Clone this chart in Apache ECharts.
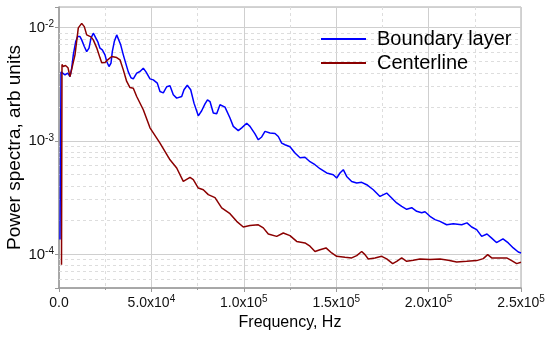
<!DOCTYPE html>
<html><head><meta charset="utf-8">
<script src="https://cdn.jsdelivr.net/npm/echarts@6/dist/echarts.min.js"></script>
<style>html,body{margin:0;padding:0;background:#fff}#c{width:550px;height:338px}</style>
</head><body><div id="c"></div>
<script>
// ---- data (frequency in Hz, power spectra in arb units) ----
const seriesNames = ['Boundary layer', 'Centerline'];
const freqBL = [541, 1082, 1786, 3247, 4708, 5952, 6872, 7738, 9036, 10119, 11363, 12283, 13690, 14989, 16233, 17315, 18560, 19480, 20941, 22185, 23430, 24891, 25810, 27055, 28137, 28841, 29923, 31221, 32087, 33386, 34793, 36091, 37498, 38959, 40204, 42043, 43829, 45615, 47076, 49240, 51026, 53190, 54651, 56437, 58276, 60062, 61848, 63687, 66393, 67638, 69423, 71263, 73049, 75375, 77215, 79001, 80353, 81706, 83492, 85331, 87117, 89823, 92528, 94314, 97019, 98859, 101565, 103350, 106056, 107842, 109681, 111467, 114172, 116878, 118664, 120503, 122289, 124994, 127700, 130405, 133111, 135816, 138522, 141227, 144852, 148424, 150264, 152049, 153835, 155675, 158380, 161086, 163791, 166497, 170068, 173694, 177319, 180024, 182730, 185435, 188141, 190846, 193552, 196257, 198043, 200748, 203454, 206159, 209785, 213356, 217901, 220769, 223312, 226018, 228723, 231591, 234134, 236731, 240248, 243116, 245822, 248527, 250000];
const powerBL = [1.34e-4, 4.06e-3, 4.09e-3, 3.82e-3, 3.96e-3, 3.69e-3, 4.38e-3, 5.74e-3, 7.52e-3, 8.33e-3, 8.33e-3, 7.79e-3, 6.80e-3, 6.14e-3, 6.58e-3, 8.06e-3, 8.92e-3, 8.62e-3, 7.52e-3, 6.58e-3, 6.36e-3, 5.74e-3, 5.01e-3, 4.53e-3, 4.85e-3, 6.14e-3, 7.52e-3, 8.62e-3, 8.33e-3, 7.04e-3, 5.74e-3, 4.85e-3, 4.06e-3, 3.60e-3, 3.52e-3, 3.96e-3, 4.09e-3, 4.38e-3, 4.06e-3, 3.52e-3, 3.45e-3, 3.23e-3, 2.72e-3, 2.65e-3, 3.00e-3, 3.06e-3, 2.55e-3, 2.38e-3, 2.46e-3, 2.82e-3, 3.09e-3, 2.82e-3, 2.15e-3, 1.66e-3, 1.84e-3, 2.12e-3, 2.30e-3, 2.22e-3, 1.76e-3, 1.73e-3, 2.08e-3, 1.98e-3, 1.59e-3, 1.34e-3, 1.23e-3, 1.30e-3, 1.43e-3, 1.34e-3, 1.15e-3, 1.02e-3, 1.08e-3, 1.21e-3, 1.17e-3, 1.16e-3, 1.09e-3, 9.54e-4, 9.22e-4, 8.85e-4, 7.79e-4, 7.08e-4, 7.15e-4, 6.53e-4, 6.14e-4, 5.66e-4, 5.19e-4, 5.01e-4, 4.69e-4, 5.19e-4, 5.55e-4, 4.84e-4, 4.37e-4, 4.23e-4, 4.29e-4, 4.09e-4, 3.69e-4, 3.22e-4, 3.45e-4, 3.12e-4, 2.82e-4, 2.63e-4, 2.48e-4, 2.56e-4, 2.38e-4, 2.31e-4, 2.36e-4, 2.15e-4, 2.01e-4, 1.94e-4, 1.81e-4, 1.85e-4, 1.81e-4, 1.88e-4, 1.73e-4, 1.64e-4, 1.43e-4, 1.50e-4, 1.38e-4, 1.26e-4, 1.36e-4, 1.25e-4, 1.13e-4, 1.04e-4, 1.02e-4];
const freqCL = [1353, 1623, 2164, 3517, 4870, 5952, 7034, 8658, 10443, 12283, 13690, 14989, 15854, 17315, 18560, 20400, 22185, 23105, 24891, 26352, 28516, 31221, 33007, 34793, 36632, 38418, 40204, 42043, 45615, 49240, 54651, 60062, 63687, 67259, 70884, 72670, 75375, 78081, 80786, 84412, 88037, 92528, 96154, 99725, 103350, 107842, 110547, 113253, 117798, 121369, 124994, 128620, 133111, 135816, 138522, 141227, 144474, 147558, 150264, 154755, 158380, 161086, 163791, 165577, 167363, 170988, 174614, 177319, 180566, 182730, 185435, 188141, 191712, 195338, 200748, 206159, 210650, 215195, 220606, 226018, 229589, 231970, 234134, 238625, 242251, 244956, 247662, 250000];
const powerCL = [8.04e-5, 4.73e-3, 4.53e-3, 4.62e-3, 4.41e-3, 3.69e-3, 3.67e-3, 5.74e-3, 9.94e-3, 1.089e-2, 1.02e-2, 8.62e-3, 8.33e-3, 8.28e-3, 7.79e-3, 6.62e-3, 5.40e-3, 4.88e-3, 4.91e-3, 5.19e-3, 5.55e-3, 5.43e-3, 5.19e-3, 4.23e-3, 3.34e-3, 2.95e-3, 2.91e-3, 2.46e-3, 1.88e-3, 1.30e-3, 9.54e-4, 6.79e-4, 5.74e-4, 4.37e-4, 4.74e-4, 4.53e-4, 3.82e-4, 3.69e-4, 3.34e-4, 3.14e-4, 2.55e-4, 2.27e-4, 1.94e-4, 1.73e-4, 1.78e-4, 1.81e-4, 1.70e-4, 1.50e-4, 1.43e-4, 1.53e-4, 1.45e-4, 1.29e-4, 1.25e-4, 1.17e-4, 1.05e-4, 1.09e-4, 1.13e-4, 1.02e-4, 9.52e-5, 9.33e-5, 9.22e-5, 9.66e-5, 1.05e-4, 9.86e-5, 9.03e-5, 9.22e-5, 9.52e-5, 9.03e-5, 8.21e-5, 8.60e-5, 9.22e-5, 8.60e-5, 8.78e-5, 9.03e-5, 8.91e-5, 9.03e-5, 8.78e-5, 8.50e-5, 8.60e-5, 8.73e-5, 9.09e-5, 9.86e-5, 9.22e-5, 9.22e-5, 9.22e-5, 8.73e-5, 8.21e-5, 8.43e-5];

// ---- axes / ticks ----
const xTickValues = [0, 50000, 100000, 150000, 200000, 250000];
const xTickMantissa = ['0.0', '5.0', '1.0', '1.5', '2.0', '2.5'];
const xTickExponent = [null, 4, 5, 5, 5, 5];
const yTickExponents = [-4, -3, -2];
const yRange = [5e-5, 0.0152];
const minorGridValues = [6e-5, 7e-5, 8e-5, 9e-5, 2e-4, 3e-4, 4e-4, 5e-4, 6e-4, 7e-4, 8e-4, 9e-4, 2e-3, 3e-3, 4e-3, 5e-3, 6e-3, 7e-3, 8e-3, 9e-3];

const FONT = 'Liberation Sans, Arial, sans-serif';
const toPts = (fs, ps) => fs.map((f, i) => [f, Math.log10(ps[i])]);

const chart = echarts.init(document.getElementById('c'), null, {renderer: 'canvas'});
chart.setOption({
  animation: false,
  backgroundColor: '#fff',
  grid: {left: 59, right: 29, top: 7, bottom: 50, outerBoundsMode: 'none', containLabel: false,
    show: true, borderColor: '#a8a8a8', borderWidth: 1, backgroundColor: 'transparent'},
  legend: {
    data: seriesNames, orient: 'vertical', left: 316, top: 23, z: 20,
    icon: 'rect', itemWidth: 45, itemHeight: 2, itemGap: 2,
    textStyle: {fontFamily: FONT, fontSize: 20, color: '#000', lineHeight: 22, padding: [0, 0, 0, 6]}
  },
  xAxis: {
    type: 'value', min: 0, max: 250000, interval: 50000,
    name: 'Frequency, Hz', nameLocation: 'middle', nameGap: 27, nameMoveOverlap: false,
    nameTextStyle: {fontFamily: FONT, fontSize: 16, color: '#000'},
    axisLine: {show: true, lineStyle: {color: '#9a9a9a', width: 1.5}},
    axisTick: {show: true, inside: false, length: 4, lineStyle: {color: '#9a9a9a'}},
    minorTick: {show: true, splitNumber: 2, length: 2, lineStyle: {color: '#9a9a9a'}},
    splitLine: {show: true, lineStyle: {color: '#cfcfcf', width: 1}},
    minorSplitLine: {show: true, lineStyle: {color: '#dddddd', width: 1, type: [3, 3]}},
    axisLabel: {
      margin: 6, showMaxLabel: true,
      formatter: v => {
        const i = xTickValues.indexOf(v);
        if (i < 0) return '';
        if (xTickExponent[i] === null) return '{b|' + xTickMantissa[i] + '}';
        return '{b|' + xTickMantissa[i] + 'x10}{s|' + xTickExponent[i] + '}';
      },
      rich: {
        b: {fontFamily: FONT, fontSize: 14, color: '#111', lineHeight: 16, verticalAlign: 'bottom'},
        s: {fontFamily: FONT, fontSize: 10, color: '#111', lineHeight: 8, verticalAlign: 'top'}
      }
    }
  },
  yAxis: {
    type: 'value', min: Math.log10(yRange[0]), max: Math.log10(yRange[1]), splitNumber: 2,
    name: 'Power spectra, arb units', nameLocation: 'middle', nameGap: 35, nameMoveOverlap: false,
    nameTextStyle: {fontFamily: FONT, fontSize: 19, color: '#000'},
    axisLine: {show: true, lineStyle: {color: '#9a9a9a', width: 1.5}},
    axisTick: {show: true, inside: false, length: 4, lineStyle: {color: '#9a9a9a'}},
    splitLine: {show: true, lineStyle: {color: '#cfcfcf', width: 1}},
    axisLabel: {
      margin: 5, showMinLabel: true, showMaxLabel: true,
      formatter: v => {
        const e = Math.round(v);
        if (Math.abs(v - e) > 1e-6 || yTickExponents.indexOf(e) < 0) return '';
        return '{b|10}{s|' + e + '}';
      },
      rich: {
        b: {fontFamily: FONT, fontSize: 15, color: '#111', lineHeight: 16, verticalAlign: 'bottom'},
        s: {fontFamily: FONT, fontSize: 10, color: '#111', lineHeight: 10, verticalAlign: 'top'}
      }
    }
  },
  series: [
    {
      name: '_minorgrid', type: 'line', data: [], silent: true, z: 1,
      markLine: {
        silent: true, symbol: 'none', label: {show: false}, animation: false, z: 1,
        lineStyle: {type: [3, 3], color: '#dddddd', width: 1},
        emphasis: {disabled: true},
        data: minorGridValues.map(v => ({yAxis: Math.log10(v)}))
      }
    },
    {
      name: seriesNames[0], type: 'line', data: toPts(freqBL, powerBL), z: 3,
      showSymbol: false, symbol: 'none', color: '#0000ff',
      lineStyle: {color: '#0000ff', width: 1.5}
    },
    {
      name: seriesNames[1], type: 'line', data: toPts(freqCL, powerCL), z: 4,
      showSymbol: false, symbol: 'none', color: '#8b0000',
      lineStyle: {color: '#8b0000', width: 1.5}
    }
  ]
});
</script>
</body></html>
